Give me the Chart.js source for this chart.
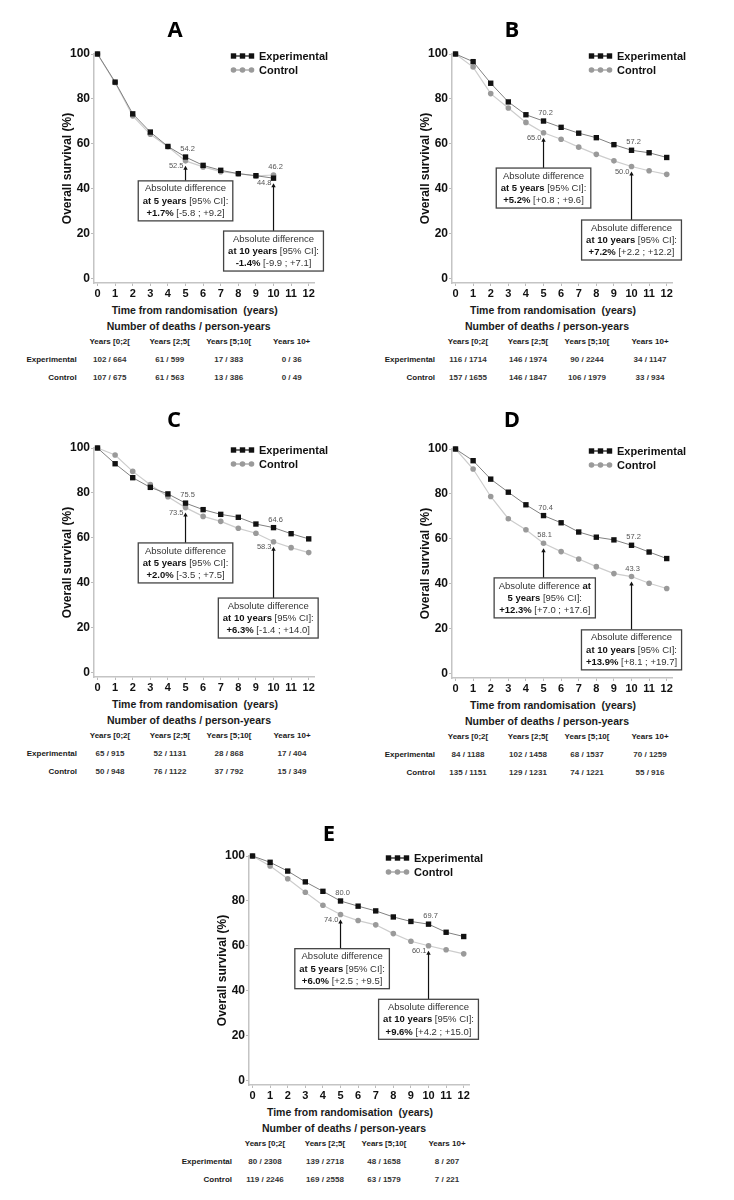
<!DOCTYPE html>
<html>
<head>
<meta charset="utf-8">
<script src="https://cdn.jsdelivr.net/npm/chart.js@4.4.1/dist/chart.umd.min.js"></script>
<style>
  body { margin: 0; background: #fff; font-family: "Liberation Sans", Arial, sans-serif; }
  #page { position: relative; width: 734px; height: 1200px; overflow: hidden; }
  canvas { position: absolute; }
  .t { position: absolute; white-space: nowrap; font-weight: bold; color: #1a1a1a; line-height: 1; }
  .c { transform: translate(-50%, -50%); }
  .r { transform: translate(-100%, -50%); }
  .panel-title { font-family: "Open Sans", "Liberation Sans", sans-serif; font-size: 22px; color: #000; }
</style>
</head>
<body>
<div id="page"></div>
<script>
// x axis: years since randomisation
const years = [0, 1, 2, 3, 4, 5, 6, 7, 8, 9, 10, 11, 12];
const yTicks = [0, 20, 40, 60, 80, 100];

// overall survival (%) per year
const expA  = [100, 87.5, 73.4, 65.3, 58.9, 54.2, 50.5, 48.3, 46.8, 45.9, 44.8];
const ctrlA = [100, 87.3, 72.5, 64.3, 58.8, 52.5, 49.8, 47.7, 46.8, 45.8, 46.2];
const expB  = [100, 96.6, 87.0, 78.7, 73.0, 70.2, 67.4, 64.8, 62.8, 59.7, 57.2, 56.1, 54.0];
const ctrlB = [100, 94.2, 82.4, 76.0, 69.6, 65.0, 62.1, 58.6, 55.4, 52.5, 50.0, 48.1, 46.5];
const expC  = [100, 93.0, 86.8, 82.5, 79.6, 75.5, 72.6, 70.5, 69.2, 66.2, 64.6, 61.9, 59.6];
const ctrlC = [100, 96.9, 89.6, 83.7, 78.3, 73.5, 69.6, 67.4, 64.3, 62.1, 58.3, 55.7, 53.5];
const expD  = [100, 94.8, 86.6, 80.8, 75.2, 70.4, 67.2, 63.1, 60.8, 59.6, 57.2, 54.2, 51.3];
const ctrlD = [100, 91.1, 78.9, 69.0, 64.1, 58.1, 54.4, 51.1, 47.7, 44.6, 43.3, 40.3, 38.0];
const expE  = [100, 97.2, 93.3, 88.5, 84.3, 80.0, 77.7, 75.6, 72.9, 70.9, 69.7, 66.1, 64.2];
const ctrlE = [100, 95.6, 89.9, 83.9, 78.1, 74.0, 71.3, 69.4, 65.5, 62.1, 60.1, 58.3, 56.5];

// absolute differences [estimate, CI]
const diff5A = ['+1.7%', '[-5.8 ; +9.2]'],   diff10A = ['-1.4%', '[-9.9 ; +7.1]'];
const diff5B = ['+5.2%', '[+0.8 ; +9.6]'],   diff10B = ['+7.2%', '[+2.2 ; +12.2]'];
const diff5C = ['+2.0%', '[-3.5 ; +7.5]'],   diff10C = ['+6.3%', '[-1.4 ; +14.0]'];
const diff5D = ['+12.3%', '[+7.0 ; +17.6]'], diff10D = ['+13.9%', '[+8.1 ; +19.7]'];
const diff5E = ['+6.0%', '[+2.5 ; +9.5]'],   diff10E = ['+9.6%', '[+4.2 ; +15.0]'];

// number of deaths / person-years
const tableCols = ['Years [0;2[', 'Years [2;5[', 'Years [5;10[', 'Years 10+'];
const tableRows = ['Experimental', 'Control'];
const expDeathsA  = ['102 / 664', '61 / 599', '17 / 383', '0 / 36'];
const ctrlDeathsA = ['107 / 675', '61 / 563', '13 / 386', '0 / 49'];
const expDeathsB  = ['116 / 1714', '146 / 1974', '90 / 2244', '34 / 1147'];
const ctrlDeathsB = ['157 / 1655', '146 / 1847', '106 / 1979', '33 / 934'];
const expDeathsC  = ['65 / 915', '52 / 1131', '28 / 868', '17 / 404'];
const ctrlDeathsC = ['50 / 948', '76 / 1122', '37 / 792', '15 / 349'];
const expDeathsD  = ['84 / 1188', '102 / 1458', '68 / 1537', '70 / 1259'];
const ctrlDeathsD = ['135 / 1151', '129 / 1231', '74 / 1221', '55 / 916'];
const expDeathsE  = ['80 / 2308', '139 / 2718', '48 / 1658', '8 / 207'];
const ctrlDeathsE = ['119 / 2246', '169 / 2558', '63 / 1579', '7 / 221'];

const panels = [
  { name: 'A', exp: expA, ctrl: ctrlA, x0: 97.7, y0: 279, tx: 175, ty: 28, low: 'left',
    boxes: [{ year: 5, cx: 5, top: 43.6, diff: diff5A }, { year: 10, cx: 10, top: 21.3, diff: diff10A }],
    rows: [expDeathsA, ctrlDeathsA] },
  { name: 'B', exp: expB, ctrl: ctrlB, x0: 456, y0: 279, tx: 512, ty: 28, low: 'left',
    boxes: [{ year: 5, cx: 5, top: 49.3, diff: diff5B }, { year: 10, cx: 10, top: 26.2, diff: diff10B }],
    rows: [expDeathsB, ctrlDeathsB] },
  { name: 'C', exp: expC, ctrl: ctrlC, x0: 98, y0: 673, tx: 174, ty: 418, low: 'left',
    boxes: [{ year: 5, cx: 5, top: 57.8, diff: diff5C }, { year: 10, cx: 9.7, top: 33.3, diff: diff10C }],
    rows: [expDeathsC, ctrlDeathsC] },
  { name: 'D', exp: expD, ctrl: ctrlD, x0: 456, y0: 674, tx: 512, ty: 418, low: 'above',
    boxes: [{ year: 5, cx: 5.07, top: 42.7, diff: diff5D, split: true }, { year: 10, cx: 10, top: 19.6, diff: diff10D }],
    rows: [expDeathsD, ctrlDeathsD] },
  { name: 'E', exp: expE, ctrl: ctrlE, x0: 253, y0: 1081, tx: 329, ty: 832, low: 'left',
    boxes: [{ year: 5, cx: 5.09, top: 58.8, diff: diff5E }, { year: 10, cx: 10, top: 36.3, diff: diff10E }],
    rows: [expDeathsE, ctrlDeathsE] }
];

Chart.defaults.font.family = '"Liberation Sans", Arial, sans-serif';

const PX_YEAR = 17.57, PX_PCT = 2.25;
const X_MIN = -0.2, X_MAX = 12.3, Y_MIN = -1.8, Y_MAX = 100;
const AXIS_W = 50, PAD_TOP = 14, PAD_RIGHT = 40, AXIS_H = 16;

function boxLines(year, diff, split) {
  if (split) {
    return [
      [{ t: 'Absolute difference ' }, { t: 'at', b: true }],
      [{ t: year + ' years', b: true }, { t: ' [95% CI]:' }],
      [{ t: diff[0], b: true }, { t: ' ' + diff[1] }]
    ];
  }
  return [
    [{ t: 'Absolute difference' }],
    [{ t: 'at ' + year + ' years', b: true }, { t: ' [95% CI]:' }],
    [{ t: diff[0], b: true }, { t: ' ' + diff[1] }]
  ];
}

function segFont(s) {
  return (s.b ? 'bold ' : '') + '9.5px "Liberation Sans", Arial, sans-serif';
}

const annotate = {
  id: 'annotate',
  afterDatasetsDraw(chart, args, opts) {
    const { ctx, chartArea, scales: { x, y } } = chart;
    const p = opts.panel;
    ctx.save();

    // legend, top right of the plot
    const lx = chartArea.left + 137;
    [[chart.data.datasets[0], chartArea.top + 2], [chart.data.datasets[1], chartArea.top + 16]].forEach(([ds, ly]) => {
      ctx.strokeStyle = ds.pointBackgroundColor;
      ctx.lineWidth = 1.2;
      ctx.beginPath();
      ctx.moveTo(lx + 2, ly);
      ctx.lineTo(lx + 21, ly);
      ctx.stroke();
      ctx.fillStyle = ds.pointBackgroundColor;
      [2.5, 11.5, 20.5].forEach(dx => {
        if (ds.pointStyle === 'rect') {
          ctx.fillRect(lx + dx - 2.7, ly - 2.7, 5.4, 5.4);
        } else {
          ctx.beginPath();
          ctx.arc(lx + dx, ly, 2.8, 0, Math.PI * 2);
          ctx.fill();
        }
      });
      ctx.fillStyle = '#111';
      ctx.font = 'bold 11px "Liberation Sans", Arial, sans-serif';
      ctx.textAlign = 'left';
      ctx.textBaseline = 'middle';
      ctx.fillText(ds.label, lx + 28, ly + 0.5);
    });

    p.boxes.forEach(b => {
      const e = p.exp[b.year], c = p.ctrl[b.year];
      const hi = Math.max(e, c), lo = Math.min(e, c);
      const px = x.getPixelForValue(b.year);
      const loY = y.getPixelForValue(lo);
      const tipY = loY + 5;

      // value labels
      ctx.fillStyle = '#555';
      ctx.font = '7.5px "Liberation Sans", Arial, sans-serif';
      ctx.textBaseline = 'alphabetic';
      ctx.textAlign = 'center';
      ctx.fillText(hi.toFixed(1), px + 2, y.getPixelForValue(hi) - 6);
      if (p.low === 'left') {
        ctx.textAlign = 'right';
        ctx.textBaseline = 'middle';
        ctx.fillText(lo.toFixed(1), px - 2, tipY);
      } else {
        ctx.fillText(lo.toFixed(1), px + 1, loY - 6);
      }

      // box geometry
      const lines = boxLines(b.year, b.diff, b.split);
      const widths = lines.map(l => l.reduce((s, seg) => { ctx.font = segFont(seg); return s + ctx.measureText(seg.t).width; }, 0));
      const w = Math.max(...widths) + 9, h = 40;
      const bx = x.getPixelForValue(b.cx) - w / 2;
      const by = y.getPixelForValue(b.top);

      // arrow
      ctx.strokeStyle = '#111';
      ctx.fillStyle = '#111';
      ctx.lineWidth = 1.2;
      ctx.beginPath();
      ctx.moveTo(px, by);
      ctx.lineTo(px, tipY + 3);
      ctx.stroke();
      ctx.beginPath();
      ctx.moveTo(px, tipY);
      ctx.lineTo(px - 2.2, tipY + 4);
      ctx.lineTo(px + 2.2, tipY + 4);
      ctx.closePath();
      ctx.fill();

      // box
      ctx.fillStyle = '#fff';
      ctx.fillRect(bx, by, w, h);
      ctx.strokeStyle = '#444';
      ctx.lineWidth = 1.3;
      ctx.strokeRect(bx, by, w, h);

      ctx.textAlign = 'left';
      ctx.textBaseline = 'middle';
      lines.forEach((l, i) => {
        let cx = bx + (w - widths[i]) / 2;
        const ly = by + 8 + i * 12.3;
        l.forEach(seg => {
          ctx.font = segFont(seg);
          ctx.fillStyle = seg.b ? '#111' : '#333';
          ctx.fillText(seg.t, cx, ly);
          cx += ctx.measureText(seg.t).width;
        });
      });
    });
    ctx.restore();
  }
};

const page = document.getElementById('page');

function addText(txt, left, top, size, cls, extra) {
  const d = document.createElement('div');
  d.className = 't ' + cls;
  d.style.left = left + 'px';
  d.style.top = top + 'px';
  d.style.fontSize = size + 'px';
  if (extra) Object.assign(d.style, extra);
  d.textContent = txt;
  page.appendChild(d);
}

panels.forEach(p => {
  const chartW = (X_MAX - X_MIN) * PX_YEAR;
  const chartH = (Y_MAX - Y_MIN) * PX_PCT;
  const cvs = document.createElement('canvas');
  cvs.width = Math.round(AXIS_W + chartW + PAD_RIGHT);
  cvs.height = Math.round(PAD_TOP + chartH + AXIS_H);
  cvs.style.left = (p.x0 + X_MIN * PX_YEAR - AXIS_W) + 'px';
  cvs.style.top = (p.y0 - Y_MAX * PX_PCT - PAD_TOP) + 'px';
  page.appendChild(cvs);

  new Chart(cvs.getContext('2d'), {
    type: 'line',
    data: {
      datasets: [
        {
          label: 'Experimental',
          data: p.exp.map((v, i) => ({ x: years[i], y: v })),
          borderColor: '#808080',
          borderWidth: 1,
          pointStyle: 'rect',
          pointRadius: 3.8,
          pointBackgroundColor: '#111',
          pointBorderWidth: 0,
          clip: false
        },
        {
          label: 'Control',
          data: p.ctrl.map((v, i) => ({ x: years[i], y: v })),
          borderColor: '#cdcdcd',
          borderWidth: 1.2,
          pointStyle: 'circle',
          pointRadius: 2.8,
          pointBackgroundColor: '#9a9a9a',
          pointBorderWidth: 0,
          clip: false
        }
      ]
    },
    options: {
      responsive: false,
      animation: false,
      layout: { padding: { top: PAD_TOP, right: PAD_RIGHT, left: 0, bottom: 0 } },
      plugins: {
        legend: { display: false },
        tooltip: { enabled: false },
        annotate: { panel: p }
      },
      scales: {
        x: {
          type: 'linear',
          min: X_MIN,
          max: X_MAX,
          afterBuildTicks: s => { s.ticks = years.map(v => ({ value: v })); },
          afterFit: s => { s.height = AXIS_H; },
          grid: { drawOnChartArea: false, tickLength: 3, color: '#bbb' },
          border: { color: '#c4c4c4', width: 1.5 },
          ticks: { padding: 1, color: '#111', font: { size: 11, weight: 'bold' }, maxRotation: 0 }
        },
        y: {
          min: Y_MIN,
          max: Y_MAX,
          afterBuildTicks: s => { s.ticks = yTicks.map(v => ({ value: v })); },
          afterFit: s => { s.width = AXIS_W; },
          grid: { drawOnChartArea: false, tickLength: 3, color: '#bbb' },
          border: { color: '#c4c4c4', width: 1.5 },
          ticks: { padding: 1, color: '#111', font: { size: 12, weight: 'bold' } },
          title: {
            display: true,
            text: 'Overall survival (%)',
            color: '#111',
            font: { size: 12, weight: 'bold' },
            padding: { top: 16.5, bottom: 0 }
          }
        }
      }
    },
    plugins: [annotate]
  });

  // panel letter
  addText(p.name, p.tx, p.ty, 22, 'c panel-title');
  // x axis title and table
  addText('Time from randomisation  (years)', p.x0 + 97, p.y0 + 31, 10.5, 'c', { whiteSpace: 'pre' });
  addText('Number of deaths / person-years', p.x0 + 91, p.y0 + 46.5, 10.5, 'c');
  const colX = [12, 72, 131, 194];
  tableCols.forEach((t, i) => addText(t, p.x0 + colX[i], p.y0 + 63, 8, 'c'));
  tableRows.forEach((r, j) => {
    const ry = p.y0 + 81 + j * 18;
    addText(r, p.x0 - 21, ry, 8, 'r');
    p.rows[j].forEach((v, i) => addText(v, p.x0 + colX[i], ry, 8, 'c', { color: '#333' }));
  });
});
</script>
</body>
</html>
